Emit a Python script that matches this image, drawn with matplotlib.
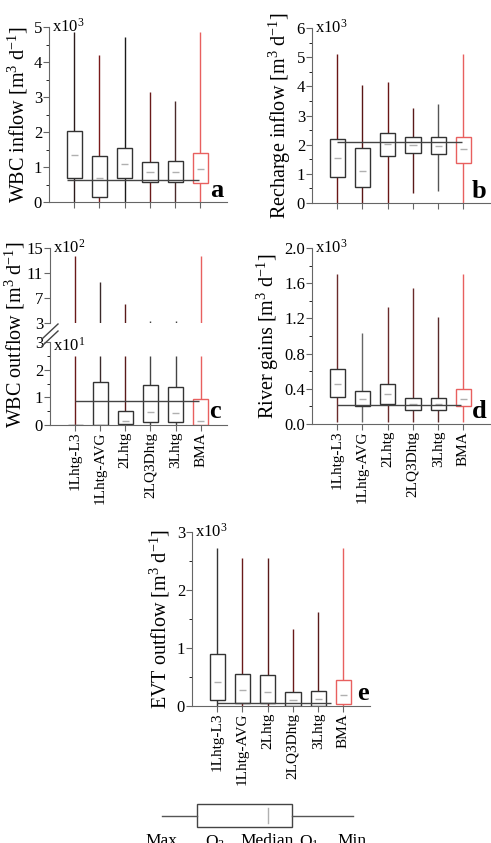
import numpy as np
import matplotlib
matplotlib.use('Agg')
import matplotlib.pyplot as plt
from matplotlib.lines import Line2D

plt.rcParams['font.family'] = ['Liberation Serif', 'DejaVu Serif']
plt.rcParams['mathtext.fontset'] = 'custom'
plt.rcParams['mathtext.rm'] = 'Liberation Serif'
plt.rcParams['mathtext.default'] = 'regular'

models = ['1Lhtg-L3', '1Lhtg-AVG', '2Lhtg', '2LQ3Dhtg', '3Lhtg', 'BMA']

# a: WBC inflow (x10^3 m3/d)
a_max = [4.85, 4.20, 4.72, 3.13, 2.90, 4.85]
a_q3 = [2.02, 1.32, 1.55, 1.15, 1.18, 1.40]
a_med = [1.35, 0.70, 1.08, 0.85, 0.87, 0.93]
a_q1 = [0.68, 0.13, 0.68, 0.58, 0.58, 0.55]
a_min = [0, 0, 0, 0, 0, 0]
a_ref = 0.63

# b: Recharge inflow (x10^3 m3/d)
b_max = [5.10, 4.05, 4.15, 3.25, 3.40, 5.10]
b_q3 = [2.20, 1.90, 2.40, 2.25, 2.25, 2.25]
b_med = [1.55, 1.10, 2.02, 1.98, 1.97, 1.85]
b_q1 = [0.90, 0.55, 1.60, 1.70, 1.67, 1.38]
b_min = [0, 0, 0, 0.33, 0.40, 0]
b_ref = 2.10

# c: WBC outflow (m3/d), broken axis
c_max = [1370, 950, 600, 330, 330, 1370]
c_q3 = [0, 15.5, 5.0, 14.5, 13.7, 9.5]
c_med = [0, 0, 1.5, 4.7, 4.5, 1.5]
c_q1 = [0, 0, 0.2, 1.0, 1.0, 0]
c_min = [0, 0, 0, 0, 0, 0]
c_ref = 8.7
c_low_top = 25    # whiskers of lower part end here
c_high_bottom = 300

# d: River gains (x10^3 m3/d)
d_max = [1.70, 1.03, 1.33, 1.54, 1.22, 1.70]
d_q3 = [0.63, 0.38, 0.46, 0.29, 0.29, 0.40]
d_med = [0.45, 0.28, 0.34, 0.23, 0.23, 0.28]
d_q1 = [0.31, 0.20, 0.23, 0.16, 0.16, 0.20]
d_min = [0.02, 0.02, 0.02, 0.02, 0.02, 0.02]
d_ref = 0.22

# e: EVT outflow (x10^3 m3/d)
e_max = [2.72, 2.55, 2.55, 1.33, 1.62, 2.72]
e_q3 = [0.90, 0.56, 0.53, 0.25, 0.26, 0.45]
e_med = [0.42, 0.27, 0.25, 0.10, 0.12, 0.19]
e_q1 = [0.10, 0.05, 0.05, 0.00, 0.00, 0.03]
e_min = [0, 0, 0, 0, 0, 0]
e_ref = 0.05

edge = ['#333333'] * 5 + ['#e8605f']
wcol_a = ['#2a1a1a', '#7a1a1a', '#1a1a1a', '#6a1a1a', '#4a2a2a', '#e8605f']
wcol_b = ['#6a1515', '#5a1515', '#6a1515', '#5a1a1a', '#555555', '#e8605f']
wcol_c = ['#6a1a1a', '#3a2a2a', '#5a1a1a', '#444444', '#444444', '#e8605f']
wcol_d = ['#6a2a2a', '#666666', '#6a2a2a', '#6a2a2a', '#5a2a2a', '#e8605f']
wcol_e = ['#333333', '#6a1a1a', '#5a1a1a', '#6a1a1a', '#5a1a1a', '#e8605f']

pos = np.arange(1, len(models) + 1)
W, H = 491, 843
fig = plt.figure(figsize=(W / 100, H / 100), dpi=100)


def px_axes(x0, x1, y0, y1):
    return fig.add_axes([x0 / W, 1 - y1 / H, (x1 - x0) / W, (y1 - y0) / H])


def draw_boxes(ax, vmin, q1, med, q3, vmax, wcol):
    ax.vlines(pos, vmin, vmax, colors=wcol, lw=1, zorder=1)
    ax.bar(pos, np.subtract(q3, q1), bottom=q1, width=0.6, color='white',
           edgecolor=edge, lw=1, zorder=2)
    ax.hlines(med, pos - 0.14, pos + 0.14, colors='#b0b0b0', lw=1, zorder=3)


def style(ax, ylim, major, minor, labels=False, bottom=True):
    for s in ['top', 'right']:
        ax.spines[s].set_visible(False)
    for s in ['left', 'bottom']:
        ax.spines[s].set_color('#666666')
    ax.set_xlim(0, 7.05)
    ax.set_ylim(ylim)
    ax.set_yticks(major)
    ax.set_yticks(minor, minor=True)
    ax.tick_params(colors='#666666', labelcolor='black', labelsize=12,
                   length=4, direction='out', pad=1)
    ax.tick_params(which='minor', length=2)
    if bottom:
        ax.set_xticks(pos)
        if labels:
            ax.set_xticklabels(models, rotation=90, fontsize=11)
        else:
            ax.set_xticklabels([])
    else:
        ax.spines['bottom'].set_visible(False)
        ax.set_xticks([])


def letter(ax, s, x, y):
    ax.text(x, y, s, transform=ax.transAxes, fontsize=19, fontweight='bold',
            ha='center', va='baseline')


def scale(ax, s, y=1.0):
    ax.text(0.015, y, s, transform=ax.transAxes, fontsize=12,
            ha='left', va='center')


def ylab(ax, s, xc):
    ax.set_ylabel(s, fontsize=14.5)
    ax.yaxis.set_label_coords(xc, 0.5)


# panel a
ax = px_axes(49, 227, 27, 202)
draw_boxes(ax, a_min, a_q1, a_med, a_q3, a_max, wcol_a)
ax.hlines(a_ref, 0.7, 5.95, colors='#444444', lw=1, zorder=4)
style(ax, (0, 5), range(6), np.arange(0.5, 5, 1))
ylab(ax, 'WBC inflow [m$^3$ d$^{-1}$]', -0.107)
scale(ax, 'x10$^3$')
letter(ax, 'a', 0.94, 0.03)

# panel b
ax = px_axes(312, 490, 28, 203)
draw_boxes(ax, b_min, b_q1, b_med, b_q3, b_max, wcol_b)
ax.hlines(b_ref, 1.0, 5.95, colors='#444444', lw=1, zorder=4)
style(ax, (0, 6), range(7), np.arange(0.5, 6, 1))
ylab(ax, 'Recharge inflow [m$^3$ d$^{-1}$]', -0.107)
scale(ax, 'x10$^3$')
letter(ax, 'b', 0.94, 0.03)

# panel c (broken axis)
axt = px_axes(50, 227, 248, 323)
axt.vlines(pos, c_high_bottom / 100, np.array(c_max) / 100, colors=wcol_c, lw=1)
style(axt, (3, 15), [3, 7, 11, 15], [], bottom=False)
scale(axt, 'x10$^2$')

ax = px_axes(50, 227, 342, 425)
low = np.array(c_max, dtype=float).clip(max=c_low_top)
draw_boxes(ax, np.array(c_min) / 10, np.array(c_q1) / 10, np.array(c_med) / 10,
           np.array(c_q3) / 10, low / 10, wcol_c)
ax.hlines(c_ref / 10, 1.0, 5.95, colors='#444444', lw=1, zorder=4)
style(ax, (0, 3), range(4), np.arange(0.5, 3, 1), labels=True)
scale(ax, 'x10$^1$', y=0.96)
letter(ax, 'c', 0.93, 0.08)
fig.text(15 / W, 1 - 335 / H, 'WBC outflow [m$^3$ d$^{-1}$]', fontsize=14.5,
         rotation=90, ha='center', va='center')
for dy in (0, 7):
    fig.add_artist(Line2D([42 / W, 58 / W], [1 - (339 + dy) / H, 1 - (324 + dy) / H],
                          color='#444444', lw=1))

# panel d
ax = px_axes(312, 490, 248, 424)
draw_boxes(ax, d_min, d_q1, d_med, d_q3, d_max, wcol_d)
ax.hlines(d_ref, 1.0, 5.9, colors='#444444', lw=1, zorder=4)
style(ax, (0, 2.0), np.arange(0, 2.01, 0.4), np.arange(0.2, 2.0, 0.4), labels=True)
ax.set_yticklabels(['0.0', '0.4', '0.8', '1.2', '1.6', '2.0'])
ylab(ax, 'River gains [m$^3$ d$^{-1}$]', -0.175)
scale(ax, 'x10$^3$')
letter(ax, 'd', 0.94, 0.035)

# panel e
ax = px_axes(192, 370, 532, 706)
draw_boxes(ax, e_min, e_q1, e_med, e_q3, e_max, wcol_e)
ax.hlines(e_ref, 1.0, 5.5, colors='#444444', lw=1, zorder=4)
style(ax, (0, 3), range(4), np.arange(0.5, 3, 1), labels=True)
ylab(ax, 'EVT outflow [m$^3$ d$^{-1}$]', -0.112)
scale(ax, 'x10$^3$')
letter(ax, 'e', 0.96, 0.035)

# legend schematic
leg_labels = ['Max', 'Q$_3$', 'Median', 'Q$_1$', 'Min']
leg_x = [0.0875, 0.3125, 0.529, 0.704, 0.883]
lg = px_axes(140, 380, 795, 843)
lg.set_xlim(0, 1)
lg.set_ylim(0, 1)
lg.axis('off')
lg.plot([0.092, 0.2375], [0.5625, 0.5625], color='#555555', lw=1)
lg.plot([0.6333, 0.8875], [0.5625, 0.5625], color='#555555', lw=1)
lg.add_patch(plt.Rectangle((0.2375, 0.333), 0.3958, 0.48, fill=False,
                           edgecolor='#444444', lw=1))
lg.plot([0.533, 0.533], [0.417, 0.729], color='#b0b0b0', lw=1)
for t, x in zip(leg_labels, leg_x):
    lg.text(x, 0.2, t, fontsize=12.5, ha='center', va='top')

fig.savefig('out.png', dpi=100)
